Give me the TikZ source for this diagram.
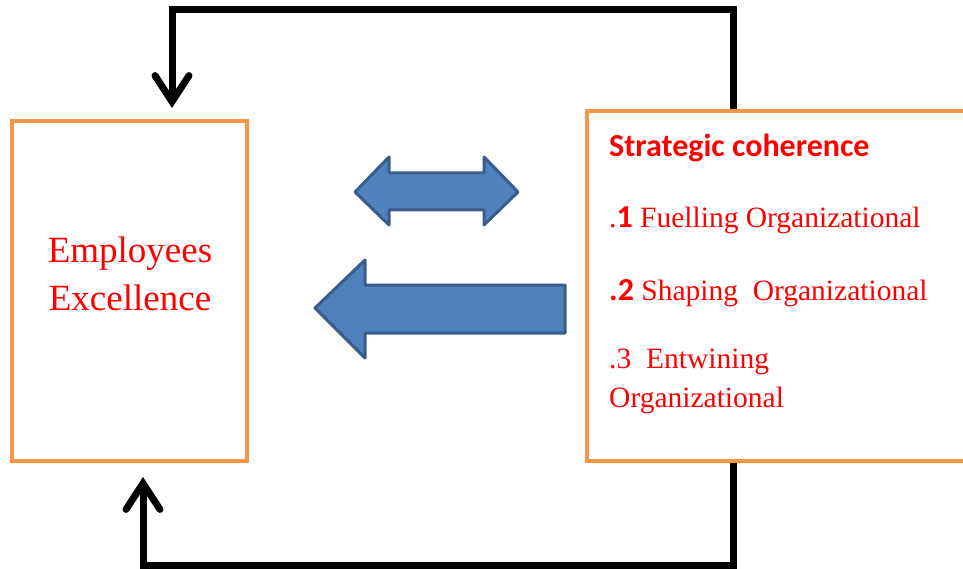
\documentclass[tikz,border=0pt]{standalone}
\usepackage{fontspec}
\setmainfont{Liberation Serif}
\newfontfamily\calibri{Carlito}
\usepackage{xcolor}
\usetikzlibrary{arrows.meta, positioning}

\definecolor{boxorange}{HTML}{F79646}
\definecolor{arrowfill}{HTML}{4F81BD}
\definecolor{arrowline}{HTML}{385D8A}
\definecolor{textred}{HTML}{FF0000}

\begin{document}
\begin{tikzpicture}[x=1pt, y=-1pt,
    framebox/.style={draw=boxorange, line width=4pt, rectangle, inner sep=0pt},
    loopline/.style={line width=7pt, black, line join=miter},
    looptip/.style={-{Straight Barb[length=26pt, width=34pt, line cap=round]}},
    blockarrow/.style={fill=arrowfill, draw=arrowline, line width=3pt, line join=round},
    redtext/.style={textred, inner sep=0pt}]
    % Canvas
    \useasboundingbox (0,0) rectangle (963,569);

    % Boxes
    \node[framebox, minimum width=235pt, minimum height=340pt] (excel) at (129.5,291) {};
    \node[framebox, minimum width=403pt, minimum height=350pt] (coher) at (788.5,286) {};

    % Left box text
    \node[redtext, anchor=base, font=\fontsize{37}{44}\selectfont] (employees) at (130,262) {Employees};
    \node[redtext, anchor=base, font=\fontsize{37}{44}\selectfont] (excellence) at (130,310) {Excellence};

    % Right box text
    \node[redtext, anchor=base west, font=\calibri\bfseries\fontsize{32}{38}\selectfont] (title) at (609,157) {Strategic coherence};
    \node[redtext, anchor=base west, font=\fontsize{29.5}{34}\selectfont] (fuel) at (609,228) {.{\calibri\bfseries\fontsize{32}{38}\selectfont 1} Fuelling Organizational};
    \node[redtext, anchor=base west, font=\fontsize{29.5}{34}\selectfont] (shape) at (609,300) {{\calibri\bfseries\fontsize{32}{38}\selectfont .2} Shaping\ \ Organizational};
    \node[redtext, anchor=base west, font=\fontsize{29.5}{34}\selectfont] (entwine) at (609,368) {.3\ \ Entwining};
    \node[redtext, anchor=base west, font=\fontsize{29.5}{34}\selectfont] (organ) at (609,407) {Organizational};

    % Feedback loops
    \coordinate (topright) at (733,10);
    \coordinate (topleft) at (172,10);
    \coordinate (botright) at (733,565);
    \coordinate (botleft) at (143,565);
    \draw[loopline, looptip, shorten >=11pt] (coher.north -| topright) -- (topright) -- (topleft) -- (topleft |- excel.north);
    \draw[loopline, looptip, shorten >=14pt] (coher.south -| botright) -- (botright) -- (botleft) -- (botleft |- excel.south);

    % Block arrows
    \draw[blockarrow] (355,192) -- (389,157) -- (389,173) -- (484,173) -- (484,157) -- (518,192)
        -- (484,225) -- (484,210) -- (389,210) -- (389,225) -- cycle;
    \draw[blockarrow] (315,308) -- (365,260) -- (365,285) -- (565,285) -- (565,333)
        -- (365,333) -- (365,358) -- cycle;
\end{tikzpicture}
\end{document}
